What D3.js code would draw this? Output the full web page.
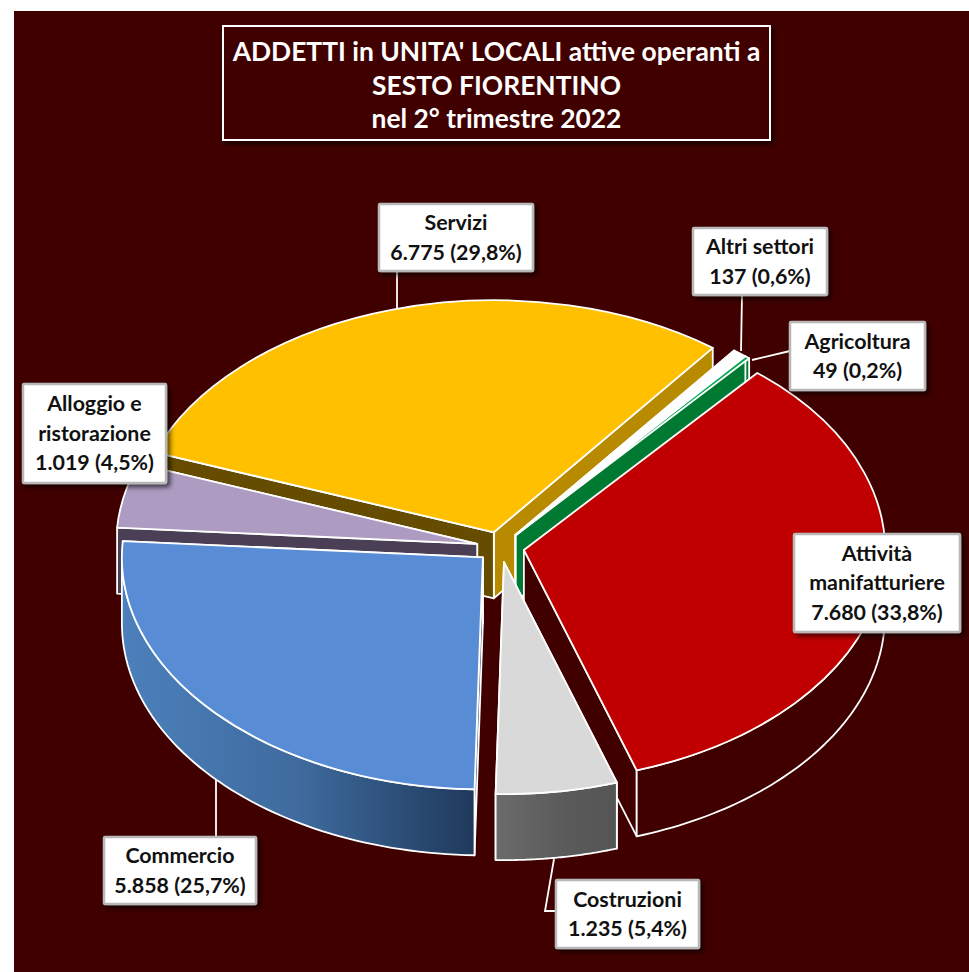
<!DOCTYPE html>
<meta charset="utf-8">
<style>
body { margin: 0; background: #fff; }
svg { display: block; }
text { font-family: Lato, sans-serif; font-weight: 700; text-anchor: middle; }
.label text { font-size: 21.4px; fill: #111; }
.title text { font-size: 26.4px; fill: #fff; }
.side, .top { stroke: #fff; stroke-width: 1.8px; stroke-linejoin: round; }
.leader { fill: none; stroke: #fff; stroke-width: 1.8px; }
</style>
<svg width="969" height="972"></svg>
<script src="https://d3js.org/d3.v7.min.js"></script>

<script>
const categories = ['Agricoltura', 'Attività manifatturiere', 'Costruzioni', 'Commercio', 'Alloggio e ristorazione', 'Servizi', 'Altri settori'];
const values = [49, 7680, 1235, 5858, 1019, 6775, 137];
const percents = ['0,2%', '33,8%', '5,4%', '25,7%', '4,5%', '29,8%', '0,6%'];

const titleLines = ["ADDETTI in UNITA' LOCALI attive operanti a", 'SESTO FIORENTINO', 'nel 2° trimestre 2022'];

// painter's order, back to front
const drawOrder = ['Servizi', 'Altri settori', 'Agricoltura', 'Alloggio e ristorazione', 'Attività manifatturiere', 'Costruzioni', 'Commercio'];

const BG = '#400000';
const styles = {
  'Agricoltura': { top: '#00a650', wall: '#007a33', capStart: '#007a33', capEnd: '#007a33' },
  'Attività manifatturiere': { top: '#c00000', wall: BG, capStart: null, capEnd: BG },
  'Costruzioni': { top: '#d9d9d9', wall: 'url(#gradGrey)', capStart: '#5a5a5a', capEnd: '#5a5a5a' },
  'Commercio': { top: '#588dd6', wall: 'url(#gradBlue)', capStart: '#24405f', capEnd: '#24405f' },
  'Alloggio e ristorazione': { top: '#ae9bc2', wall: '#4a3f55', capStart: '#4a3f55', capEnd: '#4a3f55' },
  'Servizi': { top: '#ffc000', wall: '#b88a00', capStart: '#664c00', capEnd: '#b88a00' },
  'Altri settori': { top: '#ffffff', wall: '#ffffff', capStart: '#ffffff', capEnd: '#ffffff' }
};

// box = x, y, w, h; leader = polyline up to the slice
const labelLayout = {
  'Servizi': { box: [379, 204, 154, 67], lines: ['Servizi', '6.775 (29,8%)'], leader: [[397, 271], [397, 308]] },
  'Altri settori': { box: [693, 228, 134, 67], lines: ['Altri settori', '137 (0,6%)'], leader: [[742, 295], [741, 351]] },
  'Agricoltura': { box: [790, 322, 135, 68], lines: ['Agricoltura', '49 (0,2%)'], leader: [[790, 351], [752, 360]] },
  'Alloggio e ristorazione': { box: [23, 384, 143, 99], lines: ['Alloggio e', 'ristorazione', '1.019 (4,5%)'], leader: [] },
  'Attività manifatturiere': { box: [794, 534, 166, 98], lines: ['Attività', 'manifatturiere', '7.680 (33,8%)'], leader: [] },
  'Commercio': { box: [104, 837, 152, 67], lines: ['Commercio', '5.858 (25,7%)'], leader: [[216, 780], [216, 837]] },
  'Costruzioni': { box: [556, 880, 143, 68], lines: ['Costruzioni', '1.235 (5,4%)'], leader: [[554, 859], [545, 911], [556, 911]] }
};

const width = 969;
const height = 972;
const cx = 500.5;
const cy = 547;
const rx = 361;
const ry = 232;
const depth = 66;
const explode = 0.066;
const firstAngle = 39.5 * Math.PI / 180;

const svg = d3.select('svg');

const defs = svg.append('defs');

const shadow = defs.append('filter').attr('id', 'shadow')
  .attr('x', '-10%').attr('y', '-10%').attr('width', '125%').attr('height', '125%');
shadow.append('feDropShadow')
  .attr('dx', 3).attr('dy', 3).attr('stdDeviation', 2.5)
  .attr('flood-color', '#000').attr('flood-opacity', 0.65);

function addGradient(id, x1, x2, stops) {
  const g = defs.append('linearGradient').attr('id', id)
    .attr('gradientUnits', 'userSpaceOnUse')
    .attr('x1', x1).attr('x2', x2).attr('y1', 0).attr('y2', 0);
  stops.forEach(d => g.append('stop').attr('offset', d[0]).attr('stop-color', d[1]));
}
addGradient('gradBlue', 122, 473, [[0, '#4c80bc'], [0.5, '#3f6b9e'], [1, '#1f3a5c']]);
addGradient('gradGrey', 493, 615, [[0, '#6c6c6c'], [0.6, '#5a5a5a'], [1, '#555555']]);

svg.append('rect')
  .attr('x', 14).attr('y', 11)
  .attr('width', width - 14).attr('height', height - 11)
  .attr('fill', BG);

const pie = d3.pie()
  .sort(null)
  .startAngle(firstAngle)
  .endAngle(firstAngle + 2 * Math.PI);

const slices = pie(values).map((d, i) => {
  const mid = (d.startAngle + d.endAngle) / 2;
  return {
    name: categories[i],
    startAngle: d.startAngle,
    endAngle: d.endAngle,
    ox: cx + explode * rx * Math.sin(mid),
    oy: cy - explode * ry * Math.cos(mid)
  };
});

const arc = d3.arc().innerRadius(0).outerRadius(rx);
const line = d3.line();
const rim = (s, a, dz) => [s.ox + rx * Math.sin(a), s.oy - ry * Math.cos(a) + dz];

function capPath(s, a) {
  return line([[s.ox, s.oy], rim(s, a, 0), rim(s, a, depth), [s.ox, s.oy + depth]]) + 'Z';
}

// only the front half of the rim faces the viewer
function wallPath(s) {
  const a0 = Math.max(s.startAngle, Math.PI / 2);
  const a1 = Math.min(s.endAngle, 3 * Math.PI / 2);
  if (a1 <= a0) return null;
  const steps = d3.range(0, 61).map(k => a0 + (a1 - a0) * k / 60);
  const upper = steps.map(a => rim(s, a, 0));
  const lower = steps.slice().reverse().map(a => rim(s, a, depth));
  return line(upper.concat(lower)) + 'Z';
}

const pieG = svg.append('g');

drawOrder.map(name => slices.find(s => s.name === name)).forEach(s => {
  const st = styles[s.name];
  const g = pieG.append('g').attr('class', 'slice');
  g.append('path').attr('class', 'side').attr('d', capPath(s, s.endAngle)).attr('fill', st.capEnd);
  if (st.capStart) g.append('path').attr('class', 'side').attr('d', capPath(s, s.startAngle)).attr('fill', st.capStart);
  const wall = wallPath(s);
  if (wall) g.append('path').attr('class', 'side').attr('d', wall).attr('fill', st.wall);
  g.append('path').attr('class', 'top')
    .attr('d', arc(s))
    .attr('vector-effect', 'non-scaling-stroke')
    .attr('transform', `translate(${s.ox},${s.oy}) scale(1,${ry / rx})`)
    .attr('fill', st.top);
});

// leaders go under the label boxes
const labelNames = Object.keys(labelLayout);
svg.selectAll('.leader').data(labelNames.filter(n => labelLayout[n].leader.length)).enter()
  .append('path')
  .attr('class', 'leader')
  .attr('d', n => line(labelLayout[n].leader));

const label = svg.selectAll('.label').data(labelNames).enter()
  .append('g').attr('class', 'label');

label.append('rect')
  .attr('x', n => labelLayout[n].box[0])
  .attr('y', n => labelLayout[n].box[1])
  .attr('width', n => labelLayout[n].box[2])
  .attr('height', n => labelLayout[n].box[3])
  .attr('rx', 1)
  .attr('fill', '#fff')
  .attr('stroke', '#b8b8b8')
  .attr('stroke-width', 2.5)
  .attr('filter', 'url(#shadow)');

label.each(function (n) {
  const l = labelLayout[n];
  const mid = l.box[1] + l.box[3] / 2;
  d3.select(this).selectAll('text').data(l.lines).enter().append('text')
    .attr('x', l.box[0] + l.box[2] / 2)
    .attr('y', (d, i) => mid + (i - (l.lines.length - 1) / 2) * 29.5)
    .attr('dy', '.35em')
    .text(d => d);
});

const title = svg.append('g').attr('class', 'title');
title.append('rect')
  .attr('x', 223).attr('y', 26).attr('width', 547).attr('height', 114)
  .attr('fill', BG).attr('stroke', '#fff').attr('stroke-width', 2)
  .attr('filter', 'url(#shadow)');
title.selectAll('text').data(titleLines).enter().append('text')
  .attr('x', 496.5)
  .attr('y', (d, i) => 52 + i * 33.5)
  .attr('dy', '.35em')
  .text(d => d);
</script>
